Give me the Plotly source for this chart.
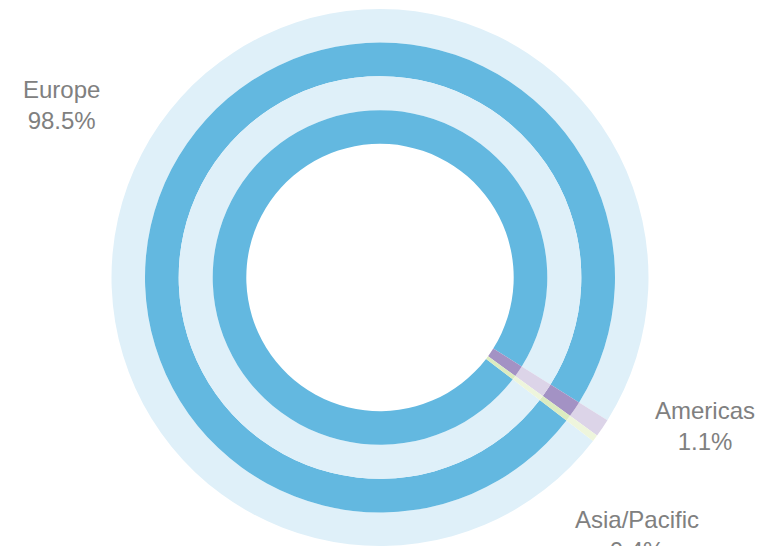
import plotly.graph_objects as go

# ---- data ----
regions = ["Europe", "Americas", "Asia/Pacific"]
shares = [98.5, 1.1, 0.4]

# ---- style ----
dark_colors = ["#63b8e0", "#a392c4", "#dcecc0"]
light_colors = ["#dff0f9", "#dcd4e8", "#eef5dc"]
text_color = "#808080"

W, H = 762, 546
mt, mb, ml, mr = 9, 0, 0, 2
pw, ph = W - ml - mr, H - mt - mb
cx, cy = pw / 2, ph / 2  # center in plot-area pixels (cy from bottom)

# ring outer radii (px) from outside in, with ring colors
radii = [268.5, 235.0, 201.3, 167.3]
inner_hole = 133.7
ring_colors = [light_colors, dark_colors, light_colors, dark_colors]
rotation = 127.5

fig = go.Figure()
for i, r in enumerate(radii):
    inner = radii[i + 1] if i + 1 < len(radii) else inner_hole
    fig.add_trace(go.Pie(
        labels=regions,
        values=shares,
        sort=False,
        direction="clockwise",
        rotation=rotation,
        hole=inner / r,
        marker=dict(colors=ring_colors[i], line=dict(width=0)),
        textinfo="none",
        hoverinfo="label+percent",
        showlegend=False,
        domain=dict(x=[(cx - r) / pw, (cx + r) / pw],
                    y=[(cy - r) / ph, (cy + r) / ph]),
    ))

# label placements (paper coords, style only)
label_pos = {
    "Europe": (61, 105),
    "Americas": (705, 426),
    "Asia/Pacific": (637, 535),
}
for name, val in zip(regions, shares):
    px, py = label_pos[name]
    fig.add_annotation(
        x=(px - ml) / pw, y=(H - mb - py) / ph,
        xref="paper", yref="paper",
        text=f"{name}<br>{val}%",
        showarrow=False,
        xanchor="center", yanchor="middle",
        font=dict(family="Liberation Sans, Arial, sans-serif", size=24, color=text_color),
    )

fig.update_layout(
    width=W, height=H,
    margin=dict(t=mt, b=mb, l=ml, r=mr),
    paper_bgcolor="white",
    plot_bgcolor="white",
)

fig.write_html("out.html")
